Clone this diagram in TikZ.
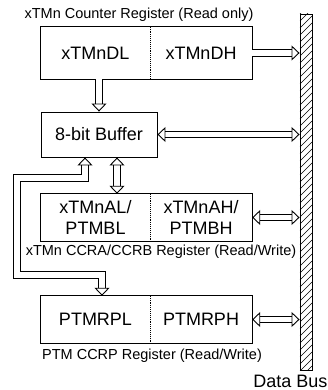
\documentclass[tikz,border=0pt]{standalone}
\usepackage{fontspec}
\setmainfont{Liberation Sans}
\usetikzlibrary{arrows.meta}
\begin{document}
\begin{tikzpicture}[x=1pt,y=-1pt,
  reg/.style={inner sep=0pt,align=center,font=\fontsize{18}{21}\selectfont},
  box/.style={line width=0.9pt},
  divider/.style={densely dotted,line width=0.9pt},
  lbl/.style={inner sep=0pt,font=\fontsize{14.5}{17}\selectfont},
  hollow/.style={double,double distance=5.5pt,line width=0.9pt,line join=miter,
    -{Triangle[open,length=8pt,width=15pt]}},
  hollowtwo/.style={hollow,{Triangle[open,length=8pt,width=15pt]}-{Triangle[open,length=8pt,width=15pt]}}]
\useasboundingbox (0,0) rectangle (328,390);
% counter register
\node[reg,minimum width=109pt,minimum height=52pt] (dl) at (95.5,53) {xTMnDL};
\node[reg,minimum width=102pt,minimum height=52pt] (dh) at (201,53) {xTMnDH};
\draw[box] (dl.north west) rectangle (dh.south east);
\draw[divider] (dl.north east) -- (dl.south east);
\node[lbl] (cntlbl) at (139,15) {xTMn Counter Register (Read only)};
% buffer
\node[reg,draw,box,minimum width=116pt,minimum height=45pt] (buf) at (99,134.5) {8-bit Buffer};
% CCRA/CCRB
\node[reg,minimum width=109pt,minimum height=47pt] (al) at (95.5,217.5) {xTMnAL/\\PTMBL};
\node[reg,minimum width=102pt,minimum height=47pt] (ah) at (201,217.5) {xTMnAH/\\PTMBH};
\draw[box] (al.north west) rectangle (ah.south east);
\draw[divider] (al.north east) -- (al.south east);
\node[lbl] (ccralbl) at (161,252) {xTMn CCRA/CCRB Register (Read/Write)};
% CCRP
\node[reg,minimum width=109pt,minimum height=47pt] (rl) at (95.5,319.5) {PTMRPL};
\node[reg,minimum width=102pt,minimum height=47pt] (rh) at (201,319.5) {PTMRPH};
\draw[box] (rl.north west) rectangle (rh.south east);
\draw[divider] (rl.north east) -- (rl.south east);
\node[lbl] (ccrplbl) at (152,356) {PTM CCRP Register (Read/Write)};
% data bus
\node[draw,box,minimum width=12pt,minimum height=356pt,inner sep=0pt] (bus) at (306,192) {};
\begin{scope}
  \clip (bus.south west) rectangle (bus.north east);
  \foreach \y in {14,21,...,384}
    \draw[line width=0.5pt] (300,\y) -- (312,\y-12);
\end{scope}
\node[reg,anchor=east] (buslbl) at (327.5,381) {Data Bus};
% connections
\draw[hollow] (dh.east) -- (dh.east -| bus.west);
\draw[hollow] (buf.north |- dl.south) -- (buf.north);
\draw[hollowtwo] (buf.east) -- (buf.east -| bus.west);
\draw[hollowtwo] ([xshift=18pt]buf.south) -- ([xshift=18pt]buf.south |- al.north);
\draw[hollowtwo] (ah.east) -- (ah.east -| bus.west);
\draw[hollowtwo] (rh.east) -- (rh.east -| bus.west);
\coordinate (lpa) at (17,178);
\coordinate (lpb) at (17,275);
\draw[hollowtwo] ([xshift=-14pt]buf.south) |- (lpa) -- (lpb) -| ([xshift=6.5pt]rl.north);
\end{tikzpicture}
\end{document}
